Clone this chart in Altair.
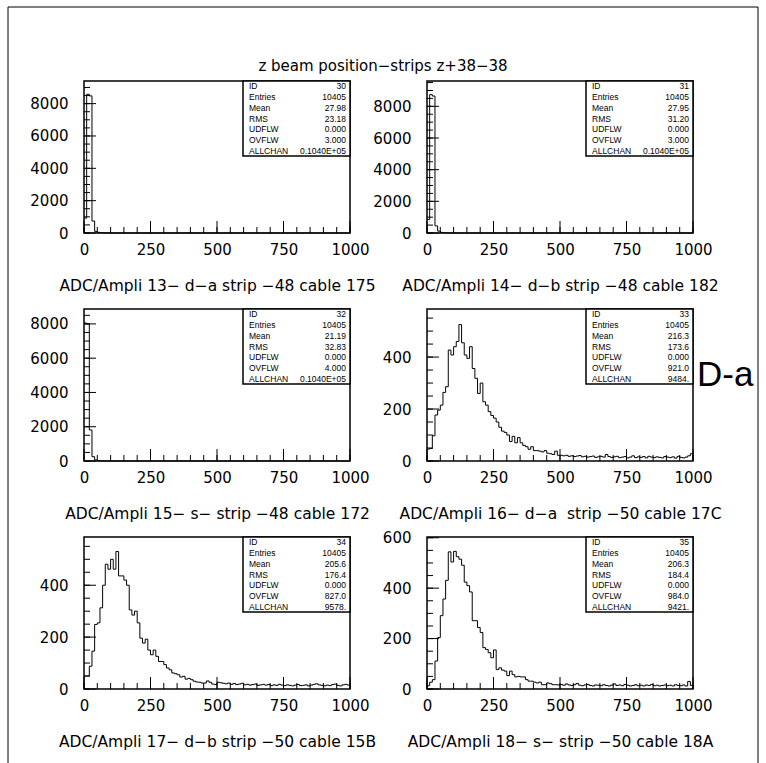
import altair as alt
import pandas as pd

W, H = 266, 152

# ---------------- data ----------------
bin_left = list(range(0, 1000, 10))          # 100 bins of width 10, 0..1000

h30 = [920, 8580, 8480, 740, 100, 40, 15, 8, 5, 3] + [0] * 90
h31 = [850, 8740, 8650, 450, 120, 40, 12, 6, 3, 2] + [0] * 90
h32 = [8050, 8000, 1810, 250, 60, 20, 8, 5, 3, 2] + [0] * 90
h33 = [46, 48, 97, 177, 196, 215, 264, 286, 427, 408,
       440, 460, 525, 455, 408, 395, 440, 356, 318, 260,
       300, 228, 215, 190, 175, 165, 150, 130, 115, 110,
       100, 75, 95, 70, 90, 70, 60, 55, 45, 55,
       40, 40, 38, 35, 40, 30, 28, 25, 38, 22,
       22, 20, 22, 18, 20, 17, 19, 21, 16, 18,
       15, 17, 19, 14, 16, 18, 15, 25, 17, 14,
       16, 18, 13, 15, 17, 12, 15, 20, 13, 16,
       14, 17, 12, 18, 15, 13, 16, 14, 12, 17,
       15, 13, 16, 11, 18, 14, 12, 15, 20, 28]
h34 = [50, 50, 88, 146, 249, 255, 313, 400, 481, 462,
       500, 462, 530, 436, 436, 420, 400, 305, 285, 300,
       255, 196, 177, 192, 150, 132, 150, 126, 106, 106,
       94, 81, 74, 62, 59, 55, 46, 49, 38, 41,
       36, 30, 27, 26, 23, 23, 31, 26, 19, 17,
       26, 24, 22, 20, 23, 18, 21, 17, 19, 22,
       16, 18, 15, 17, 19, 14, 16, 18, 15, 17,
       13, 16, 14, 18, 15, 13, 16, 14, 12, 15,
       17, 13, 14, 16, 12, 15, 18, 20, 16, 14,
       12, 15, 13, 17, 19, 14, 12, 16, 18, 15]
h35 = [13, 27, 37, 111, 204, 291, 357, 431, 544, 504,
       546, 525, 515, 491, 424, 410, 385, 271, 271, 244,
       224, 164, 157, 144, 124, 155, 77, 84, 75, 71,
       53, 71, 57, 48, 50, 48, 48, 37, 31, 31,
       27, 24, 27, 17, 17, 24, 21, 17, 17, 16,
       18, 15, 20, 16, 14, 17, 22, 15, 13, 16,
       18, 14, 12, 16, 15, 13, 17, 14, 12, 15,
       20, 14, 16, 13, 18, 15, 12, 14, 17, 13,
       15, 12, 16, 14, 18, 13, 15, 12, 14, 16,
       13, 15, 12, 17, 14, 13, 16, 12, 30, 14]
counts = [h30, h31, h32, h33, h34, h35]

y_max = [9400, 9600, 8870, 585, 586, 603]
y_major = [[0, 2000, 4000, 6000, 8000]] * 3 + [[0, 200, 400], [0, 200, 400], [0, 200, 400, 600]]
y_minor = [list(range(0, 9001, 500)), list(range(0, 9501, 500)), list(range(0, 8501, 500)),
           list(range(0, 551, 50)), list(range(0, 551, 50)), list(range(0, 601, 50))]
x_major = [0, 250, 500, 750, 1000]
x_minor = list(range(0, 1001, 50))

subtitles = [
    "ADC/Ampli 13\u2212 d\u2212a strip \u221248 cable 175",
    "ADC/Ampli 14\u2212 d\u2212b strip \u221248 cable 182",
    "ADC/Ampli 15\u2212 s\u2212 strip \u221248 cable 172",
    "ADC/Ampli 16\u2212 d\u2212a\u00a0 strip \u221250 cable 17C",
    "ADC/Ampli 17\u2212 d\u2212b strip \u221250 cable 15B",
    "ADC/Ampli 18\u2212 s\u2212 strip \u221250 cable 18A",
]
stat_names = ["ID", "Entries", "Mean", "RMS", "UDFLW", "OVFLW", "ALLCHAN"]
ids = ["30", "31", "32", "33", "34", "35"]
entries = ["10405"] * 6
means = ["27.98", "27.95", "21.19", "216.3", "205.6", "206.3"]
rms = ["23.18", "31.20", "32.83", "173.6", "176.4", "184.4"]
udflw = ["0.000"] * 6
ovflw = ["3.000", "3.000", "4.000", "921.0", "827.0", "984.0"]
allchan = ["0.1040E+05", "0.1040E+05", "0.1040E+05", "9484.", "9578.", "9421."]

main_title = "z beam position\u2212strips z+38\u221238"
side_label = "D-a"

FONT = "DejaVu Sans"
BOXF = "Liberation Sans"


def panel(k):
    c = counts[k]
    assert len(c) == 100
    df = pd.DataFrame({"x": bin_left + [1000], "y": c + [c[-1]]})
    xs = alt.Scale(domain=[0, 1000], nice=False, zero=False)
    ys = alt.Scale(domain=[0, y_max[k]], nice=False)
    xaxis = alt.Axis(values=x_major, format="d", ticks=False, domain=False, grid=False,
                     labelFont=FONT, labelFontSize=15, labelColor="black",
                     labelPadding=9, labelFlush=False, labelAngle=0,
                     title=subtitles[k], titleFont=FONT, titleFontSize=15.5,
                     titleFontWeight="normal", titleColor="black", titlePadding=21)
    yaxis = alt.Axis(values=y_major[k], format="d", ticks=False, domain=False, grid=False,
                     labelFont=FONT, labelFontSize=15, labelColor="black",
                     labelPadding=16, labelFlush=False, title=None)

    hist = alt.Chart(df).mark_line(interpolate="step-after", color="black",
                                   strokeWidth=1).encode(
        x=alt.X("x:Q", scale=xs, axis=xaxis),
        y=alt.Y("y:Q", scale=ys, axis=yaxis))

    xmin = alt.Chart(pd.DataFrame({"x": x_minor})).mark_rule(color="black").encode(
        x=alt.X("x:Q", scale=xs, axis=xaxis), y=alt.value(H), y2=alt.value(H - 6))
    xmaj = alt.Chart(pd.DataFrame({"x": x_major})).mark_rule(color="black").encode(
        x=alt.X("x:Q", scale=xs, axis=xaxis), y=alt.value(H), y2=alt.value(H - 12))
    ymin = alt.Chart(pd.DataFrame({"y": y_minor[k]})).mark_rule(color="black").encode(
        y=alt.Y("y:Q", scale=ys, axis=None), x=alt.value(0), x2=alt.value(6))
    ymaj = alt.Chart(pd.DataFrame({"y": y_major[k]})).mark_rule(color="black").encode(
        y=alt.Y("y:Q", scale=ys, axis=None), x=alt.value(0), x2=alt.value(12))

    box = alt.Chart(pd.DataFrame({"a": [0]})).mark_rect(
        fill="white", stroke="black", strokeWidth=1.5).encode(
        x=alt.value(W - 107), x2=alt.value(W), y=alt.value(0), y2=alt.value(75))

    sdf = pd.DataFrame({
        "row": list(range(7)),
        "name": stat_names,
        "val": [ids[k], entries[k], means[k], rms[k], udflw[k], ovflw[k], allchan[k]],
    })
    rowy = alt.Y("row:O", scale=alt.Scale(type="point", range=[5, 70], padding=0), axis=None)
    lab = alt.Chart(sdf).mark_text(align="left", baseline="middle", font=BOXF,
                                   fontSize=8.5, color="black").encode(
        x=alt.value(W - 101), y=rowy, text="name:N")
    val = alt.Chart(sdf).mark_text(align="right", baseline="middle", font=BOXF,
                                   fontSize=8.5, color="black").encode(
        x=alt.value(W - 4), y=rowy, text="val:N")

    layers = [hist, xmin, xmaj, ymin, ymaj, box, lab, val]

    if k == 0:
        one = pd.DataFrame({"t": [main_title]})
        fl = alt.Chart(one).mark_rule(color="black").encode(
            x=alt.value(-76), y=alt.value(-74), y2=alt.value(690))
        ft = alt.Chart(one).mark_rule(color="black").encode(
            x=alt.value(-76), x2=alt.value(674), y=alt.value(-74))
        fr = alt.Chart(one).mark_rule(color="black").encode(
            x=alt.value(674), y=alt.value(-74), y2=alt.value(690))
        tt = alt.Chart(one).mark_text(align="center", baseline="middle", font=FONT,
                                      fontSize=15, color="black").encode(
            x=alt.value(299), y=alt.value(-15), text="t:N")
        layers += [fl, ft, fr, tt]
    if k == 3:
        two = pd.DataFrame({"t": [side_label]})
        dl = alt.Chart(two).mark_text(align="left", baseline="alphabetic", font=BOXF,
                                      fontSize=35, color="black").encode(
            x=alt.value(270), y=alt.value(77), text="t:N")
        layers += [dl]

    return alt.layer(*layers).resolve_scale(y="independent").properties(width=W, height=H)


chart = alt.concat(*[panel(k) for k in range(6)], columns=2,
                   spacing={"row": 76, "column": 77}, bounds="flush").properties(
    autosize=alt.AutoSizeParams(type="none"),
    padding={"left": 84, "top": 81, "right": 682, "bottom": 682},
    background="white",
).configure_view(stroke="black", strokeWidth=1.5)

chart.save("out.html", embed_options={"renderer": "svg", "actions": False})
